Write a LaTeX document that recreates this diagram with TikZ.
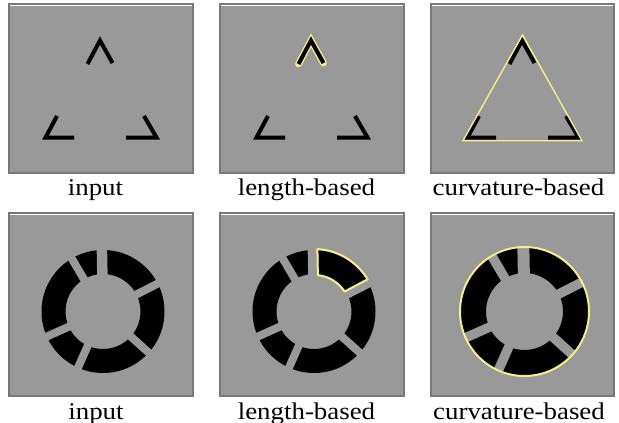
\documentclass[tikz,border=0pt]{standalone}
\usepackage{fontspec}
\setmainfont{Liberation Serif}
\definecolor{pg}{RGB}{153,153,153}
\definecolor{pb}{RGB}{120,120,120}
\definecolor{yl}{RGB}{242,240,135}
\tikzset{
  frag/.style={line width=4pt, black, line cap=butt, line join=miter},
  lbl/.style={font=\fontsize{24}{24}\selectfont, xscale=1.12, anchor=base, inner sep=0pt, text=black},
  contour/.style={draw=yl, line width=1.4pt, line join=round},
}
\newcommand\mypanel[4]{%
  \fill[pg] (#1,#2) rectangle (#3,#4);
  \draw[pb,line width=1.6pt] (#1,#2) rectangle (#3,#4);
  \draw[white,line width=0.9pt] ({#1+1},{#2+1.4}) -- ({#3-1},{#2+1.4});}
\newcommand\trifrag[1]{%
  \begin{scope}[xshift=#1pt]
    \draw[frag] (87.5,64) -- (100,40.5) -- (112.5,63);
    \draw[frag] (57,116) -- (45.5,137.5) -- (74,137.5);
    \draw[frag] (144,116) -- (156.5,137.5) -- (126,137.5);
  \end{scope}}
\newcommand\ringshape[5]{%
  \begin{scope}[shift={(#1,#2)},y=1pt]
    \fill[black,even odd rule] (0,0) circle[radius=#4] (0,0) circle[radius=#3];
    \foreach \a/\w in {120.5/8, 91/10.5, 27/8, -42/8, -114/8, -156/8}{
      \pgfmathsetmacro\gw{\w+#5}
      \draw[pg,line width=\gw pt] ({\a}:{#3-5}) -- ({\a}:{#4+5});
    }
  \end{scope}}
\begin{document}
\begin{tikzpicture}[x=1pt,y=-1pt]
  \useasboundingbox (0,0) rectangle (619,423);
  \fill[white] (0,0) rectangle (619,423);
  % row 1 panels
  \mypanel{9}{4}{193}{173}
  \mypanel{220}{4}{404}{173}
  \mypanel{431}{4}{614}{173}
  % row 2 panels
  \mypanel{9}{213}{193}{396}
  \mypanel{220}{213}{404}{396}
  \mypanel{431}{213}{614}{396}
  % triangle fragments
  \trifrag{0}
  \begin{scope}[xshift=211pt]
    \draw[yl, line width=6.8pt, line cap=round, line join=miter] (87.5,64) -- (100,40.5) -- (112.5,63);
  \end{scope}
  \trifrag{211}
  \trifrag{422}
  \draw[contour, line join=miter, line width=1.4pt] (522.5,35) -- (463,140.7) -- (582,140.7) -- cycle;
  % rings
  \ringshape{103}{311.5}{37.5}{61.5}{0}
  \ringshape{314}{311.5}{37.5}{61.5}{0}
  \ringshape{524.5}{311.5}{38.5}{64}{1.5}
  \begin{scope}[shift={(314,311.5)},y=1pt]
    \pgfmathsetmacro\ao{91-asin(4.5/62.5)}
    \pgfmathsetmacro\ai{91-asin(4.5/36.5)}
    \pgfmathsetmacro\bo{28+asin(3.25/62.5)}
    \pgfmathsetmacro\bi{28+asin(3.25/36.5)}
    \draw[contour, line width=2pt] (\ao:62.5) arc[start angle=\ao, end angle=\bo, radius=62.5]
      -- (\bi:36.5) arc[start angle=\bi, end angle=\ai, radius=36.5] -- cycle;
  \end{scope}
  \draw[contour, line width=2pt] (524.5,311.5) circle[radius=64.5];
  % labels
  \node[lbl] (l1) at (95.5,195) {input};
  \node[lbl] (l2) at (306.5,195) {length-based};
  \node[lbl] (l3) at (518.5,195) {curvature-based};
  \node[lbl] (l4) at (96,419) {input};
  \node[lbl] (l5) at (306.5,419) {length-based};
  \node[lbl] (l6) at (519,419) {curvature-based};
\end{tikzpicture}
\end{document}
